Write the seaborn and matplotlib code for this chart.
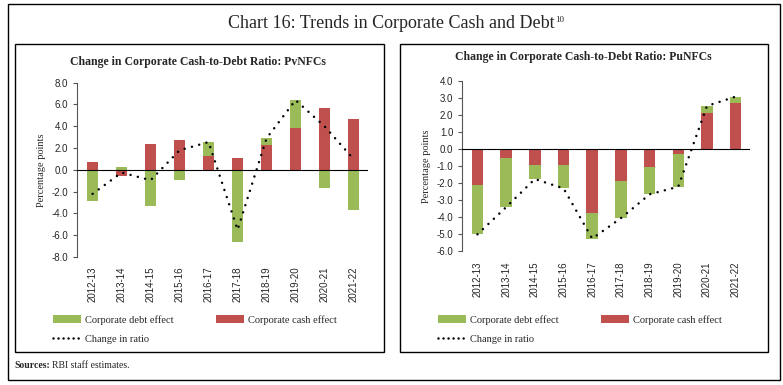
import numpy as np
import matplotlib
matplotlib.use("Agg")
import matplotlib.pyplot as plt
from matplotlib.patches import Rectangle, Patch
from matplotlib.lines import Line2D
import seaborn as sns

# categories
years = ['2012-13', '2013-14', '2014-15', '2015-16', '2016-17',
         '2017-18', '2018-19', '2019-20', '2020-21', '2021-22']

# Private non-financial corporations
pv_cash = [0.7, -0.55, 2.4, 2.7, 1.3, 1.1, 2.3, 3.8, 5.65, 4.65]
pv_debt = [-2.9, 0.3, -3.35, -0.9, 1.25, -6.6, 0.6, 2.6, -1.65, -3.65]
pv_ratio = [-2.2, -0.25, -0.95, 1.8, 2.55, -5.5, 2.9, 6.4, 4.0, 1.0]

# Public non-financial corporations
pu_cash = [-2.1, -0.5, -0.9, -0.95, -3.75, -1.85, -1.05, -0.25, 2.15, 2.75]
pu_debt = [-2.9, -2.9, -0.85, -1.35, -1.5, -2.2, -1.6, -1.95, 0.4, 0.35]
pu_ratio = [-5.0, -3.4, -1.75, -2.3, -5.25, -4.05, -2.65, -2.2, 2.55, 3.1]

GREEN = '#9BBB59'
RED = '#C0504D'
SERIF = ['Liberation Serif', 'DejaVu Serif']
SANS = ['Liberation Sans', 'DejaVu Sans']

sns.set_style('white')
plt.rcParams['font.family'] = SERIF

fig = plt.figure(figsize=(7.83, 3.85), dpi=100)
W, H = 783, 385


def fbox(x0, y0, x1, y1):
    # pixel box -> figure fraction rectangle
    return Rectangle((x0 / W, 1 - y1 / H), (x1 - x0) / W, (y1 - y0) / H,
                     transform=fig.transFigure, fill=False, lw=1.0,
                     edgecolor='black', zorder=0)


fig.patches.append(fbox(8, 4, 780, 380))
fig.patches.append(fbox(15, 44, 384, 352))
fig.patches.append(fbox(400, 44, 768, 352))

title = fig.text(391 / W, 1 - 23 / H, 'Chart 16: Trends in Corporate Cash and Debt',
                 ha='center', va='center', fontsize=13)
src = fig.text(14 / W, 1 - 366 / H, 'Sources:', ha='left', va='center',
               fontsize=7, fontweight='bold')
fig.canvas.draw()
bb = title.get_window_extent()
fig.text(bb.x1 / W + 0.001, (bb.y1 - 9) / H, '10', ha='left', va='bottom',
         fontsize=6.5)
sb = src.get_window_extent()
fig.text(sb.x1 / W + 0.003, 1 - 366 / H, 'RBI staff estimates.', ha='left',
         va='center', fontsize=7)


def draw_panel(rect, cash, debt, ratio, ylim, step, title, title_xy, leg_x):
    ax = fig.add_axes(rect)
    cash = np.array(cash)
    debt = np.array(debt)
    bottom = np.where(np.sign(cash) == np.sign(debt), cash, 0.0)
    sns.barplot(x=years, y=cash, color=RED, saturation=1, width=0.4,
                edgecolor='none', ax=ax, zorder=2)
    sns.barplot(x=years, y=debt, bottom=bottom, color=GREEN, saturation=1,
                width=0.4, edgecolor='none', ax=ax, zorder=2)
    ax.axhline(0, color='black', lw=0.8, zorder=3)
    sns.lineplot(x=np.arange(len(years)), y=ratio, color='black', lw=1.8,
                 linestyle=(0, (0.01, 3.0)), dash_capstyle='round', ax=ax,
                 zorder=4)
    ax.set_xlim(-0.55, len(years) - 0.5)
    ax.set_ylim(*ylim)
    ax.set_yticks(np.arange(ylim[0], ylim[1] + step / 2, step))
    ax.set_yticklabels([f'{v:.1f}' for v in ax.get_yticks()], fontsize=7,
                       family=SANS)
    ax.set_xticks(range(len(years)))
    ax.set_xticklabels(years, rotation=90, fontsize=7, family=SANS)
    ax.tick_params(axis='x', length=0, pad=7)
    ax.tick_params(axis='y', length=3, width=0.8, direction='out', left=True,
                   color='#555555', pad=3)
    for s in ['top', 'right', 'bottom']:
        ax.spines[s].set_visible(False)
    ax.spines['left'].set_color('#555555')
    ax.spines['left'].set_linewidth(0.8)
    ax.set_ylabel('Percentage points', fontsize=7.5, labelpad=4)
    ax.set_xlabel('')
    fig.text(title_xy[0] / W, 1 - title_xy[1] / H, title, ha='center',
             va='center', fontsize=8.5, fontweight='bold')
    handles = [Patch(facecolor=GREEN, edgecolor='none'),
               Line2D([], [], color='black', lw=1.8, linestyle=(0, (0.01, 2.0)),
                      dash_capstyle='round'),
               Patch(facecolor=RED, edgecolor='none')]
    labels = ['Corporate debt effect', 'Change in ratio', 'Corporate cash effect']
    ax.legend(handles, labels, loc='upper left',
              bbox_to_anchor=(leg_x / W, 1 - 315 / H),
              bbox_transform=fig.transFigure, ncol=2, frameon=False,
              fontsize=7.5, handlelength=2.7, handleheight=0.8,
              columnspacing=4.0, labelspacing=0.9, handletextpad=0.4,
              borderaxespad=0, borderpad=0)
    return ax


draw_panel([76.7 / W, 1 - 257 / H, (368 - 76.7) / W, (257 - 82.7) / H],
           pv_cash, pv_debt, pv_ratio, (-8, 8), 2.0,
           'Change in Corporate Cash-to-Debt Ratio: PvNFCs', (198, 62), 53)
draw_panel([461.7 / W, 1 - 251.3 / H, (750 - 461.7) / W, (251.3 - 81.3) / H],
           pu_cash, pu_debt, pu_ratio, (-6, 4), 1.0,
           'Change in Corporate Cash-to-Debt Ratio: PuNFCs', (583, 57), 438)

fig.savefig('out.png', dpi=100)
